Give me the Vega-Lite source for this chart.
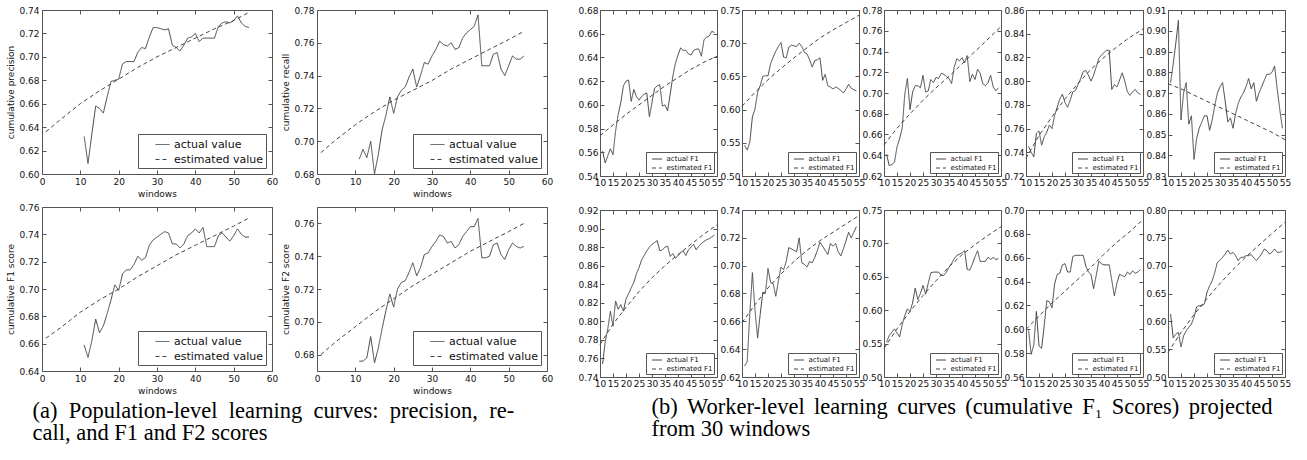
{
"$schema": "https://vega.github.io/schema/vega-lite/v6.json",
"background": "white",
"padding": {"left": 6, "top": 5, "right": 0, "bottom": 0},
"datasets": {
"a1": [
{"w":11,"v":0.632,"s":"actual"},{"w":12,"v":0.609,"s":"actual"},{"w":13,"v":0.634,"s":"actual"},{"w":14,"v":0.658,"s":"actual"},{"w":15,"v":0.656,"s":"actual"},{"w":16,"v":0.652,"s":"actual"},{"w":17,"v":0.666,"s":"actual"},{"w":18,"v":0.679,"s":"actual"},{"w":19,"v":0.680,"s":"actual"},{"w":20,"v":0.681,"s":"actual"},{"w":21,"v":0.694,"s":"actual"},{"w":22,"v":0.696,"s":"actual"},{"w":23,"v":0.696,"s":"actual"},{"w":24,"v":0.696,"s":"actual"},{"w":25,"v":0.704,"s":"actual"},{"w":26,"v":0.708,"s":"actual"},{"w":27,"v":0.707,"s":"actual"},{"w":28,"v":0.717,"s":"actual"},{"w":29,"v":0.725,"s":"actual"},{"w":30,"v":0.725,"s":"actual"},{"w":31,"v":0.724,"s":"actual"},{"w":32,"v":0.723,"s":"actual"},{"w":33,"v":0.724,"s":"actual"},{"w":34,"v":0.710,"s":"actual"},{"w":35,"v":0.708,"s":"actual"},{"w":36,"v":0.705,"s":"actual"},{"w":37,"v":0.710,"s":"actual"},{"w":38,"v":0.716,"s":"actual"},{"w":39,"v":0.717,"s":"actual"},{"w":40,"v":0.720,"s":"actual"},{"w":41,"v":0.713,"s":"actual"},{"w":42,"v":0.716,"s":"actual"},{"w":43,"v":0.716,"s":"actual"},{"w":44,"v":0.716,"s":"actual"},{"w":45,"v":0.716,"s":"actual"},{"w":46,"v":0.726,"s":"actual"},{"w":47,"v":0.729,"s":"actual"},{"w":48,"v":0.730,"s":"actual"},{"w":49,"v":0.729,"s":"actual"},{"w":50,"v":0.731,"s":"actual"},{"w":51,"v":0.735,"s":"actual"},{"w":52,"v":0.729,"s":"actual"},{"w":53,"v":0.726,"s":"actual"},{"w":54,"v":0.725,"s":"actual"},
{"w":1,"v":0.636,"s":"estimated"},{"w":5,"v":0.647,"s":"estimated"},{"w":10,"v":0.660,"s":"estimated"},{"w":15,"v":0.671,"s":"estimated"},{"w":20,"v":0.681,"s":"estimated"},{"w":25,"v":0.691,"s":"estimated"},{"w":30,"v":0.700,"s":"estimated"},{"w":35,"v":0.708,"s":"estimated"},{"w":40,"v":0.716,"s":"estimated"},{"w":45,"v":0.724,"s":"estimated"},{"w":50,"v":0.731,"s":"estimated"},{"w":54,"v":0.738,"s":"estimated"}],
"a2": [
{"w":11,"v":0.689,"s":"actual"},{"w":12,"v":0.695,"s":"actual"},{"w":13,"v":0.690,"s":"actual"},{"w":14,"v":0.700,"s":"actual"},{"w":15,"v":0.680,"s":"actual"},{"w":16,"v":0.692,"s":"actual"},{"w":17,"v":0.707,"s":"actual"},{"w":18,"v":0.716,"s":"actual"},{"w":19,"v":0.727,"s":"actual"},{"w":20,"v":0.717,"s":"actual"},{"w":21,"v":0.727,"s":"actual"},{"w":22,"v":0.731,"s":"actual"},{"w":23,"v":0.733,"s":"actual"},{"w":24,"v":0.739,"s":"actual"},{"w":25,"v":0.744,"s":"actual"},{"w":26,"v":0.733,"s":"actual"},{"w":27,"v":0.740,"s":"actual"},{"w":28,"v":0.748,"s":"actual"},{"w":29,"v":0.747,"s":"actual"},{"w":30,"v":0.752,"s":"actual"},{"w":31,"v":0.756,"s":"actual"},{"w":32,"v":0.761,"s":"actual"},{"w":33,"v":0.759,"s":"actual"},{"w":34,"v":0.758,"s":"actual"},{"w":35,"v":0.760,"s":"actual"},{"w":36,"v":0.756,"s":"actual"},{"w":37,"v":0.757,"s":"actual"},{"w":38,"v":0.763,"s":"actual"},{"w":39,"v":0.766,"s":"actual"},{"w":40,"v":0.768,"s":"actual"},{"w":41,"v":0.770,"s":"actual"},{"w":42,"v":0.777,"s":"actual"},{"w":43,"v":0.746,"s":"actual"},{"w":44,"v":0.746,"s":"actual"},{"w":45,"v":0.746,"s":"actual"},{"w":46,"v":0.753,"s":"actual"},{"w":47,"v":0.754,"s":"actual"},{"w":48,"v":0.744,"s":"actual"},{"w":49,"v":0.740,"s":"actual"},{"w":50,"v":0.746,"s":"actual"},{"w":51,"v":0.752,"s":"actual"},{"w":52,"v":0.750,"s":"actual"},{"w":53,"v":0.750,"s":"actual"},{"w":54,"v":0.752,"s":"actual"},
{"w":1,"v":0.693,"s":"estimated"},{"w":5,"v":0.701,"s":"estimated"},{"w":10,"v":0.710,"s":"estimated"},{"w":15,"v":0.718,"s":"estimated"},{"w":20,"v":0.725,"s":"estimated"},{"w":25,"v":0.731,"s":"estimated"},{"w":30,"v":0.737,"s":"estimated"},{"w":35,"v":0.744,"s":"estimated"},{"w":40,"v":0.750,"s":"estimated"},{"w":45,"v":0.756,"s":"estimated"},{"w":50,"v":0.762,"s":"estimated"},{"w":54,"v":0.767,"s":"estimated"}],
"a3": [
{"w":11,"v":0.659,"s":"actual"},{"w":12,"v":0.650,"s":"actual"},{"w":13,"v":0.662,"s":"actual"},{"w":14,"v":0.678,"s":"actual"},{"w":15,"v":0.668,"s":"actual"},{"w":16,"v":0.673,"s":"actual"},{"w":17,"v":0.682,"s":"actual"},{"w":18,"v":0.692,"s":"actual"},{"w":19,"v":0.703,"s":"actual"},{"w":20,"v":0.699,"s":"actual"},{"w":21,"v":0.711,"s":"actual"},{"w":22,"v":0.714,"s":"actual"},{"w":23,"v":0.714,"s":"actual"},{"w":24,"v":0.718,"s":"actual"},{"w":25,"v":0.724,"s":"actual"},{"w":26,"v":0.721,"s":"actual"},{"w":27,"v":0.723,"s":"actual"},{"w":28,"v":0.732,"s":"actual"},{"w":29,"v":0.736,"s":"actual"},{"w":30,"v":0.738,"s":"actual"},{"w":31,"v":0.740,"s":"actual"},{"w":32,"v":0.742,"s":"actual"},{"w":33,"v":0.741,"s":"actual"},{"w":34,"v":0.733,"s":"actual"},{"w":35,"v":0.733,"s":"actual"},{"w":36,"v":0.730,"s":"actual"},{"w":37,"v":0.733,"s":"actual"},{"w":38,"v":0.739,"s":"actual"},{"w":39,"v":0.741,"s":"actual"},{"w":40,"v":0.744,"s":"actual"},{"w":41,"v":0.741,"s":"actual"},{"w":42,"v":0.745,"s":"actual"},{"w":43,"v":0.731,"s":"actual"},{"w":44,"v":0.731,"s":"actual"},{"w":45,"v":0.731,"s":"actual"},{"w":46,"v":0.739,"s":"actual"},{"w":47,"v":0.741,"s":"actual"},{"w":48,"v":0.738,"s":"actual"},{"w":49,"v":0.735,"s":"actual"},{"w":50,"v":0.739,"s":"actual"},{"w":51,"v":0.744,"s":"actual"},{"w":52,"v":0.740,"s":"actual"},{"w":53,"v":0.738,"s":"actual"},{"w":54,"v":0.738,"s":"actual"},
{"w":1,"v":0.664,"s":"estimated"},{"w":5,"v":0.672,"s":"estimated"},{"w":10,"v":0.683,"s":"estimated"},{"w":15,"v":0.692,"s":"estimated"},{"w":20,"v":0.700,"s":"estimated"},{"w":25,"v":0.709,"s":"estimated"},{"w":30,"v":0.717,"s":"estimated"},{"w":35,"v":0.725,"s":"estimated"},{"w":40,"v":0.732,"s":"estimated"},{"w":45,"v":0.739,"s":"estimated"},{"w":50,"v":0.746,"s":"estimated"},{"w":54,"v":0.752,"s":"estimated"}],
"a4": [
{"w":11,"v":0.676,"s":"actual"},{"w":12,"v":0.676,"s":"actual"},{"w":13,"v":0.678,"s":"actual"},{"w":14,"v":0.691,"s":"actual"},{"w":15,"v":0.675,"s":"actual"},{"w":16,"v":0.684,"s":"actual"},{"w":17,"v":0.696,"s":"actual"},{"w":18,"v":0.707,"s":"actual"},{"w":19,"v":0.717,"s":"actual"},{"w":20,"v":0.709,"s":"actual"},{"w":21,"v":0.720,"s":"actual"},{"w":22,"v":0.724,"s":"actual"},{"w":23,"v":0.725,"s":"actual"},{"w":24,"v":0.730,"s":"actual"},{"w":25,"v":0.736,"s":"actual"},{"w":26,"v":0.728,"s":"actual"},{"w":27,"v":0.733,"s":"actual"},{"w":28,"v":0.741,"s":"actual"},{"w":29,"v":0.742,"s":"actual"},{"w":30,"v":0.746,"s":"actual"},{"w":31,"v":0.749,"s":"actual"},{"w":32,"v":0.753,"s":"actual"},{"w":33,"v":0.752,"s":"actual"},{"w":34,"v":0.748,"s":"actual"},{"w":35,"v":0.749,"s":"actual"},{"w":36,"v":0.745,"s":"actual"},{"w":37,"v":0.747,"s":"actual"},{"w":38,"v":0.752,"s":"actual"},{"w":39,"v":0.755,"s":"actual"},{"w":40,"v":0.758,"s":"actual"},{"w":41,"v":0.758,"s":"actual"},{"w":42,"v":0.763,"s":"actual"},{"w":43,"v":0.739,"s":"actual"},{"w":44,"v":0.739,"s":"actual"},{"w":45,"v":0.740,"s":"actual"},{"w":46,"v":0.747,"s":"actual"},{"w":47,"v":0.748,"s":"actual"},{"w":48,"v":0.741,"s":"actual"},{"w":49,"v":0.738,"s":"actual"},{"w":50,"v":0.744,"s":"actual"},{"w":51,"v":0.748,"s":"actual"},{"w":52,"v":0.746,"s":"actual"},{"w":53,"v":0.745,"s":"actual"},{"w":54,"v":0.746,"s":"actual"},
{"w":1,"v":0.680,"s":"estimated"},{"w":5,"v":0.688,"s":"estimated"},{"w":10,"v":0.697,"s":"estimated"},{"w":15,"v":0.706,"s":"estimated"},{"w":20,"v":0.714,"s":"estimated"},{"w":25,"v":0.722,"s":"estimated"},{"w":30,"v":0.729,"s":"estimated"},{"w":35,"v":0.736,"s":"estimated"},{"w":40,"v":0.743,"s":"estimated"},{"w":45,"v":0.749,"s":"estimated"},{"w":50,"v":0.755,"s":"estimated"},{"w":54,"v":0.760,"s":"estimated"}],
"b1": [
{"w":11,"v":0.561,"s":"actual"},{"w":12,"v":0.551,"s":"actual"},{"w":13,"v":0.557,"s":"actual"},{"w":14,"v":0.563,"s":"actual"},{"w":15,"v":0.558,"s":"actual"},{"w":16,"v":0.578,"s":"actual"},{"w":17,"v":0.592,"s":"actual"},{"w":18,"v":0.602,"s":"actual"},{"w":19,"v":0.616,"s":"actual"},{"w":20,"v":0.620,"s":"actual"},{"w":21,"v":0.621,"s":"actual"},{"w":22,"v":0.603,"s":"actual"},{"w":23,"v":0.613,"s":"actual"},{"w":24,"v":0.607,"s":"actual"},{"w":25,"v":0.604,"s":"actual"},{"w":26,"v":0.607,"s":"actual"},{"w":27,"v":0.609,"s":"actual"},{"w":28,"v":0.610,"s":"actual"},{"w":29,"v":0.590,"s":"actual"},{"w":30,"v":0.602,"s":"actual"},{"w":31,"v":0.614,"s":"actual"},{"w":32,"v":0.616,"s":"actual"},{"w":33,"v":0.617,"s":"actual"},{"w":34,"v":0.599,"s":"actual"},{"w":35,"v":0.600,"s":"actual"},{"w":36,"v":0.595,"s":"actual"},{"w":37,"v":0.609,"s":"actual"},{"w":38,"v":0.624,"s":"actual"},{"w":39,"v":0.635,"s":"actual"},{"w":40,"v":0.642,"s":"actual"},{"w":41,"v":0.648,"s":"actual"},{"w":42,"v":0.646,"s":"actual"},{"w":43,"v":0.646,"s":"actual"},{"w":44,"v":0.643,"s":"actual"},{"w":45,"v":0.642,"s":"actual"},{"w":46,"v":0.646,"s":"actual"},{"w":47,"v":0.647,"s":"actual"},{"w":48,"v":0.647,"s":"actual"},{"w":49,"v":0.641,"s":"actual"},{"w":50,"v":0.655,"s":"actual"},{"w":51,"v":0.657,"s":"actual"},{"w":52,"v":0.658,"s":"actual"},{"w":53,"v":0.662,"s":"actual"},{"w":54,"v":0.661,"s":"actual"},
{"w":10,"v":0.574,"s":"estimated"},{"w":15,"v":0.583,"s":"estimated"},{"w":20,"v":0.592,"s":"estimated"},{"w":25,"v":0.600,"s":"estimated"},{"w":30,"v":0.608,"s":"estimated"},{"w":35,"v":0.616,"s":"estimated"},{"w":40,"v":0.623,"s":"estimated"},{"w":45,"v":0.630,"s":"estimated"},{"w":50,"v":0.636,"s":"estimated"},{"w":55,"v":0.641,"s":"estimated"}],
"b2": [
{"w":11,"v":0.546,"s":"actual"},{"w":12,"v":0.539,"s":"actual"},{"w":13,"v":0.551,"s":"actual"},{"w":14,"v":0.589,"s":"actual"},{"w":15,"v":0.601,"s":"actual"},{"w":16,"v":0.626,"s":"actual"},{"w":17,"v":0.636,"s":"actual"},{"w":18,"v":0.650,"s":"actual"},{"w":19,"v":0.651,"s":"actual"},{"w":20,"v":0.651,"s":"actual"},{"w":21,"v":0.669,"s":"actual"},{"w":22,"v":0.679,"s":"actual"},{"w":23,"v":0.688,"s":"actual"},{"w":24,"v":0.695,"s":"actual"},{"w":25,"v":0.701,"s":"actual"},{"w":26,"v":0.679,"s":"actual"},{"w":27,"v":0.678,"s":"actual"},{"w":28,"v":0.694,"s":"actual"},{"w":29,"v":0.697,"s":"actual"},{"w":30,"v":0.696,"s":"actual"},{"w":31,"v":0.695,"s":"actual"},{"w":32,"v":0.700,"s":"actual"},{"w":33,"v":0.695,"s":"actual"},{"w":34,"v":0.686,"s":"actual"},{"w":35,"v":0.684,"s":"actual"},{"w":36,"v":0.675,"s":"actual"},{"w":37,"v":0.664,"s":"actual"},{"w":38,"v":0.674,"s":"actual"},{"w":39,"v":0.675,"s":"actual"},{"w":40,"v":0.678,"s":"actual"},{"w":41,"v":0.644,"s":"actual"},{"w":42,"v":0.653,"s":"actual"},{"w":43,"v":0.636,"s":"actual"},{"w":44,"v":0.634,"s":"actual"},{"w":45,"v":0.631,"s":"actual"},{"w":46,"v":0.634,"s":"actual"},{"w":47,"v":0.632,"s":"actual"},{"w":48,"v":0.629,"s":"actual"},{"w":49,"v":0.625,"s":"actual"},{"w":50,"v":0.631,"s":"actual"},{"w":51,"v":0.638,"s":"actual"},{"w":52,"v":0.632,"s":"actual"},{"w":53,"v":0.630,"s":"actual"},{"w":54,"v":0.628,"s":"actual"},
{"w":10,"v":0.605,"s":"estimated"},{"w":15,"v":0.626,"s":"estimated"},{"w":20,"v":0.645,"s":"estimated"},{"w":25,"v":0.662,"s":"estimated"},{"w":30,"v":0.678,"s":"estimated"},{"w":35,"v":0.693,"s":"estimated"},{"w":40,"v":0.708,"s":"estimated"},{"w":45,"v":0.720,"s":"estimated"},{"w":50,"v":0.731,"s":"estimated"},{"w":55,"v":0.742,"s":"estimated"}],
"b3": [
{"w":11,"v":0.641,"s":"actual"},{"w":12,"v":0.630,"s":"actual"},{"w":13,"v":0.631,"s":"actual"},{"w":14,"v":0.633,"s":"actual"},{"w":15,"v":0.648,"s":"actual"},{"w":16,"v":0.656,"s":"actual"},{"w":17,"v":0.666,"s":"actual"},{"w":18,"v":0.699,"s":"actual"},{"w":19,"v":0.714,"s":"actual"},{"w":20,"v":0.684,"s":"actual"},{"w":21,"v":0.701,"s":"actual"},{"w":22,"v":0.707,"s":"actual"},{"w":23,"v":0.707,"s":"actual"},{"w":24,"v":0.705,"s":"actual"},{"w":25,"v":0.717,"s":"actual"},{"w":26,"v":0.701,"s":"actual"},{"w":27,"v":0.702,"s":"actual"},{"w":28,"v":0.713,"s":"actual"},{"w":29,"v":0.710,"s":"actual"},{"w":30,"v":0.715,"s":"actual"},{"w":31,"v":0.714,"s":"actual"},{"w":32,"v":0.719,"s":"actual"},{"w":33,"v":0.718,"s":"actual"},{"w":34,"v":0.716,"s":"actual"},{"w":35,"v":0.714,"s":"actual"},{"w":36,"v":0.709,"s":"actual"},{"w":37,"v":0.725,"s":"actual"},{"w":38,"v":0.733,"s":"actual"},{"w":39,"v":0.731,"s":"actual"},{"w":40,"v":0.734,"s":"actual"},{"w":41,"v":0.729,"s":"actual"},{"w":42,"v":0.736,"s":"actual"},{"w":43,"v":0.711,"s":"actual"},{"w":44,"v":0.718,"s":"actual"},{"w":45,"v":0.713,"s":"actual"},{"w":46,"v":0.723,"s":"actual"},{"w":47,"v":0.719,"s":"actual"},{"w":48,"v":0.709,"s":"actual"},{"w":49,"v":0.707,"s":"actual"},{"w":50,"v":0.710,"s":"actual"},{"w":51,"v":0.717,"s":"actual"},{"w":52,"v":0.706,"s":"actual"},{"w":53,"v":0.702,"s":"actual"},{"w":54,"v":0.705,"s":"actual"},
{"w":10,"v":0.650,"s":"estimated"},{"w":15,"v":0.666,"s":"estimated"},{"w":20,"v":0.680,"s":"estimated"},{"w":25,"v":0.693,"s":"estimated"},{"w":30,"v":0.705,"s":"estimated"},{"w":35,"v":0.716,"s":"estimated"},{"w":40,"v":0.728,"s":"estimated"},{"w":45,"v":0.740,"s":"estimated"},{"w":50,"v":0.752,"s":"estimated"},{"w":55,"v":0.764,"s":"estimated"}],
"b4": [
{"w":11,"v":0.745,"s":"actual"},{"w":12,"v":0.740,"s":"actual"},{"w":13,"v":0.736,"s":"actual"},{"w":14,"v":0.756,"s":"actual"},{"w":15,"v":0.758,"s":"actual"},{"w":16,"v":0.746,"s":"actual"},{"w":17,"v":0.753,"s":"actual"},{"w":18,"v":0.757,"s":"actual"},{"w":19,"v":0.763,"s":"actual"},{"w":20,"v":0.760,"s":"actual"},{"w":21,"v":0.771,"s":"actual"},{"w":22,"v":0.778,"s":"actual"},{"w":23,"v":0.785,"s":"actual"},{"w":24,"v":0.789,"s":"actual"},{"w":25,"v":0.782,"s":"actual"},{"w":26,"v":0.778,"s":"actual"},{"w":27,"v":0.784,"s":"actual"},{"w":28,"v":0.791,"s":"actual"},{"w":29,"v":0.792,"s":"actual"},{"w":30,"v":0.797,"s":"actual"},{"w":31,"v":0.802,"s":"actual"},{"w":32,"v":0.808,"s":"actual"},{"w":33,"v":0.809,"s":"actual"},{"w":34,"v":0.805,"s":"actual"},{"w":35,"v":0.800,"s":"actual"},{"w":36,"v":0.805,"s":"actual"},{"w":37,"v":0.812,"s":"actual"},{"w":38,"v":0.819,"s":"actual"},{"w":39,"v":0.822,"s":"actual"},{"w":40,"v":0.824,"s":"actual"},{"w":41,"v":0.826,"s":"actual"},{"w":42,"v":0.826,"s":"actual"},{"w":43,"v":0.793,"s":"actual"},{"w":44,"v":0.797,"s":"actual"},{"w":45,"v":0.795,"s":"actual"},{"w":46,"v":0.801,"s":"actual"},{"w":47,"v":0.807,"s":"actual"},{"w":48,"v":0.800,"s":"actual"},{"w":49,"v":0.791,"s":"actual"},{"w":50,"v":0.788,"s":"actual"},{"w":51,"v":0.791,"s":"actual"},{"w":52,"v":0.793,"s":"actual"},{"w":53,"v":0.790,"s":"actual"},{"w":54,"v":0.789,"s":"actual"},
{"w":10,"v":0.735,"s":"estimated"},{"w":15,"v":0.754,"s":"estimated"},{"w":20,"v":0.770,"s":"estimated"},{"w":25,"v":0.785,"s":"estimated"},{"w":30,"v":0.798,"s":"estimated"},{"w":35,"v":0.810,"s":"estimated"},{"w":40,"v":0.820,"s":"estimated"},{"w":45,"v":0.829,"s":"estimated"},{"w":50,"v":0.837,"s":"estimated"},{"w":55,"v":0.844,"s":"estimated"}],
"b5": [
{"w":11,"v":0.875,"s":"actual"},{"w":12,"v":0.884,"s":"actual"},{"w":13,"v":0.894,"s":"actual"},{"w":14,"v":0.905,"s":"actual"},{"w":15,"v":0.857,"s":"actual"},{"w":16,"v":0.870,"s":"actual"},{"w":17,"v":0.875,"s":"actual"},{"w":18,"v":0.855,"s":"actual"},{"w":19,"v":0.859,"s":"actual"},{"w":20,"v":0.838,"s":"actual"},{"w":21,"v":0.848,"s":"actual"},{"w":22,"v":0.853,"s":"actual"},{"w":23,"v":0.856,"s":"actual"},{"w":24,"v":0.859,"s":"actual"},{"w":25,"v":0.859,"s":"actual"},{"w":26,"v":0.852,"s":"actual"},{"w":27,"v":0.857,"s":"actual"},{"w":28,"v":0.864,"s":"actual"},{"w":29,"v":0.870,"s":"actual"},{"w":30,"v":0.873,"s":"actual"},{"w":31,"v":0.875,"s":"actual"},{"w":32,"v":0.866,"s":"actual"},{"w":33,"v":0.856,"s":"actual"},{"w":34,"v":0.858,"s":"actual"},{"w":35,"v":0.853,"s":"actual"},{"w":36,"v":0.860,"s":"actual"},{"w":37,"v":0.865,"s":"actual"},{"w":38,"v":0.868,"s":"actual"},{"w":39,"v":0.870,"s":"actual"},{"w":40,"v":0.873,"s":"actual"},{"w":41,"v":0.877,"s":"actual"},{"w":42,"v":0.872,"s":"actual"},{"w":43,"v":0.875,"s":"actual"},{"w":44,"v":0.866,"s":"actual"},{"w":45,"v":0.870,"s":"actual"},{"w":46,"v":0.873,"s":"actual"},{"w":47,"v":0.876,"s":"actual"},{"w":48,"v":0.879,"s":"actual"},{"w":49,"v":0.879,"s":"actual"},{"w":50,"v":0.880,"s":"actual"},{"w":51,"v":0.883,"s":"actual"},{"w":52,"v":0.872,"s":"actual"},{"w":53,"v":0.862,"s":"actual"},{"w":54,"v":0.853,"s":"actual"},
{"w":10,"v":0.8745,"s":"estimated"},{"w":15,"v":0.872,"s":"estimated"},{"w":20,"v":0.869,"s":"estimated"},{"w":25,"v":0.866,"s":"estimated"},{"w":30,"v":0.863,"s":"estimated"},{"w":35,"v":0.860,"s":"estimated"},{"w":40,"v":0.857,"s":"estimated"},{"w":45,"v":0.854,"s":"estimated"},{"w":50,"v":0.851,"s":"estimated"},{"w":55,"v":0.8475,"s":"estimated"}],
"b6": [
{"w":11,"v":0.754,"s":"actual"},{"w":12,"v":0.778,"s":"actual"},{"w":13,"v":0.792,"s":"actual"},{"w":14,"v":0.811,"s":"actual"},{"w":15,"v":0.795,"s":"actual"},{"w":16,"v":0.822,"s":"actual"},{"w":17,"v":0.813,"s":"actual"},{"w":18,"v":0.818,"s":"actual"},{"w":19,"v":0.811,"s":"actual"},{"w":20,"v":0.824,"s":"actual"},{"w":21,"v":0.830,"s":"actual"},{"w":22,"v":0.836,"s":"actual"},{"w":23,"v":0.842,"s":"actual"},{"w":24,"v":0.851,"s":"actual"},{"w":25,"v":0.858,"s":"actual"},{"w":26,"v":0.866,"s":"actual"},{"w":27,"v":0.871,"s":"actual"},{"w":28,"v":0.876,"s":"actual"},{"w":29,"v":0.880,"s":"actual"},{"w":30,"v":0.883,"s":"actual"},{"w":31,"v":0.885,"s":"actual"},{"w":32,"v":0.887,"s":"actual"},{"w":33,"v":0.876,"s":"actual"},{"w":34,"v":0.877,"s":"actual"},{"w":35,"v":0.880,"s":"actual"},{"w":36,"v":0.881,"s":"actual"},{"w":37,"v":0.870,"s":"actual"},{"w":38,"v":0.873,"s":"actual"},{"w":39,"v":0.868,"s":"actual"},{"w":40,"v":0.871,"s":"actual"},{"w":41,"v":0.874,"s":"actual"},{"w":42,"v":0.876,"s":"actual"},{"w":43,"v":0.871,"s":"actual"},{"w":44,"v":0.877,"s":"actual"},{"w":45,"v":0.880,"s":"actual"},{"w":46,"v":0.883,"s":"actual"},{"w":47,"v":0.877,"s":"actual"},{"w":48,"v":0.881,"s":"actual"},{"w":49,"v":0.884,"s":"actual"},{"w":50,"v":0.886,"s":"actual"},{"w":51,"v":0.888,"s":"actual"},{"w":52,"v":0.889,"s":"actual"},{"w":53,"v":0.891,"s":"actual"},{"w":54,"v":0.893,"s":"actual"},
{"w":10,"v":0.775,"s":"estimated"},{"w":15,"v":0.797,"s":"estimated"},{"w":20,"v":0.815,"s":"estimated"},{"w":25,"v":0.832,"s":"estimated"},{"w":30,"v":0.847,"s":"estimated"},{"w":35,"v":0.860,"s":"estimated"},{"w":40,"v":0.872,"s":"estimated"},{"w":45,"v":0.883,"s":"estimated"},{"w":50,"v":0.894,"s":"estimated"},{"w":55,"v":0.904,"s":"estimated"}],
"b7": [
{"w":11,"v":0.628,"s":"actual"},{"w":12,"v":0.631,"s":"actual"},{"w":13,"v":0.665,"s":"actual"},{"w":14,"v":0.695,"s":"actual"},{"w":15,"v":0.668,"s":"actual"},{"w":16,"v":0.648,"s":"actual"},{"w":17,"v":0.665,"s":"actual"},{"w":18,"v":0.681,"s":"actual"},{"w":19,"v":0.680,"s":"actual"},{"w":20,"v":0.698,"s":"actual"},{"w":21,"v":0.688,"s":"actual"},{"w":22,"v":0.687,"s":"actual"},{"w":23,"v":0.678,"s":"actual"},{"w":24,"v":0.689,"s":"actual"},{"w":25,"v":0.699,"s":"actual"},{"w":26,"v":0.697,"s":"actual"},{"w":27,"v":0.703,"s":"actual"},{"w":28,"v":0.713,"s":"actual"},{"w":29,"v":0.712,"s":"actual"},{"w":30,"v":0.711,"s":"actual"},{"w":31,"v":0.710,"s":"actual"},{"w":32,"v":0.720,"s":"actual"},{"w":33,"v":0.702,"s":"actual"},{"w":34,"v":0.701,"s":"actual"},{"w":35,"v":0.699,"s":"actual"},{"w":36,"v":0.703,"s":"actual"},{"w":37,"v":0.702,"s":"actual"},{"w":38,"v":0.706,"s":"actual"},{"w":39,"v":0.711,"s":"actual"},{"w":40,"v":0.717,"s":"actual"},{"w":41,"v":0.714,"s":"actual"},{"w":42,"v":0.711,"s":"actual"},{"w":43,"v":0.708,"s":"actual"},{"w":44,"v":0.716,"s":"actual"},{"w":45,"v":0.714,"s":"actual"},{"w":46,"v":0.716,"s":"actual"},{"w":47,"v":0.710,"s":"actual"},{"w":48,"v":0.707,"s":"actual"},{"w":49,"v":0.712,"s":"actual"},{"w":50,"v":0.718,"s":"actual"},{"w":51,"v":0.724,"s":"actual"},{"w":52,"v":0.720,"s":"actual"},{"w":53,"v":0.724,"s":"actual"},{"w":54,"v":0.728,"s":"actual"},
{"w":10,"v":0.659,"s":"estimated"},{"w":15,"v":0.672,"s":"estimated"},{"w":20,"v":0.684,"s":"estimated"},{"w":25,"v":0.694,"s":"estimated"},{"w":30,"v":0.703,"s":"estimated"},{"w":35,"v":0.711,"s":"estimated"},{"w":40,"v":0.718,"s":"estimated"},{"w":45,"v":0.724,"s":"estimated"},{"w":50,"v":0.730,"s":"estimated"},{"w":55,"v":0.736,"s":"estimated"}],
"b8": [
{"w":11,"v":0.552,"s":"actual"},{"w":12,"v":0.562,"s":"actual"},{"w":13,"v":0.567,"s":"actual"},{"w":14,"v":0.572,"s":"actual"},{"w":15,"v":0.566,"s":"actual"},{"w":16,"v":0.560,"s":"actual"},{"w":17,"v":0.578,"s":"actual"},{"w":18,"v":0.592,"s":"actual"},{"w":19,"v":0.602,"s":"actual"},{"w":20,"v":0.598,"s":"actual"},{"w":21,"v":0.611,"s":"actual"},{"w":22,"v":0.633,"s":"actual"},{"w":23,"v":0.616,"s":"actual"},{"w":24,"v":0.625,"s":"actual"},{"w":25,"v":0.637,"s":"actual"},{"w":26,"v":0.624,"s":"actual"},{"w":27,"v":0.640,"s":"actual"},{"w":28,"v":0.656,"s":"actual"},{"w":29,"v":0.657,"s":"actual"},{"w":30,"v":0.657,"s":"actual"},{"w":31,"v":0.657,"s":"actual"},{"w":32,"v":0.652,"s":"actual"},{"w":33,"v":0.652,"s":"actual"},{"w":34,"v":0.657,"s":"actual"},{"w":35,"v":0.664,"s":"actual"},{"w":36,"v":0.670,"s":"actual"},{"w":37,"v":0.677,"s":"actual"},{"w":38,"v":0.682,"s":"actual"},{"w":39,"v":0.684,"s":"actual"},{"w":40,"v":0.686,"s":"actual"},{"w":41,"v":0.689,"s":"actual"},{"w":42,"v":0.661,"s":"actual"},{"w":43,"v":0.660,"s":"actual"},{"w":44,"v":0.669,"s":"actual"},{"w":45,"v":0.680,"s":"actual"},{"w":46,"v":0.689,"s":"actual"},{"w":47,"v":0.673,"s":"actual"},{"w":48,"v":0.673,"s":"actual"},{"w":49,"v":0.673,"s":"actual"},{"w":50,"v":0.679,"s":"actual"},{"w":51,"v":0.676,"s":"actual"},{"w":52,"v":0.679,"s":"actual"},{"w":53,"v":0.676,"s":"actual"},{"w":54,"v":0.677,"s":"actual"},
{"w":10,"v":0.543,"s":"estimated"},{"w":15,"v":0.572,"s":"estimated"},{"w":20,"v":0.598,"s":"estimated"},{"w":25,"v":0.622,"s":"estimated"},{"w":30,"v":0.644,"s":"estimated"},{"w":35,"v":0.665,"s":"estimated"},{"w":40,"v":0.683,"s":"estimated"},{"w":45,"v":0.698,"s":"estimated"},{"w":50,"v":0.712,"s":"estimated"},{"w":55,"v":0.725,"s":"estimated"}],
"b9": [
{"w":11,"v":0.599,"s":"actual"},{"w":12,"v":0.579,"s":"actual"},{"w":13,"v":0.587,"s":"actual"},{"w":14,"v":0.615,"s":"actual"},{"w":15,"v":0.586,"s":"actual"},{"w":16,"v":0.584,"s":"actual"},{"w":17,"v":0.603,"s":"actual"},{"w":18,"v":0.624,"s":"actual"},{"w":19,"v":0.623,"s":"actual"},{"w":20,"v":0.618,"s":"actual"},{"w":21,"v":0.638,"s":"actual"},{"w":22,"v":0.646,"s":"actual"},{"w":23,"v":0.647,"s":"actual"},{"w":24,"v":0.654,"s":"actual"},{"w":25,"v":0.655,"s":"actual"},{"w":26,"v":0.648,"s":"actual"},{"w":27,"v":0.648,"s":"actual"},{"w":28,"v":0.661,"s":"actual"},{"w":29,"v":0.662,"s":"actual"},{"w":30,"v":0.662,"s":"actual"},{"w":31,"v":0.662,"s":"actual"},{"w":32,"v":0.662,"s":"actual"},{"w":33,"v":0.653,"s":"actual"},{"w":34,"v":0.648,"s":"actual"},{"w":35,"v":0.646,"s":"actual"},{"w":36,"v":0.634,"s":"actual"},{"w":37,"v":0.645,"s":"actual"},{"w":38,"v":0.657,"s":"actual"},{"w":39,"v":0.655,"s":"actual"},{"w":40,"v":0.654,"s":"actual"},{"w":41,"v":0.654,"s":"actual"},{"w":42,"v":0.654,"s":"actual"},{"w":43,"v":0.641,"s":"actual"},{"w":44,"v":0.628,"s":"actual"},{"w":45,"v":0.639,"s":"actual"},{"w":46,"v":0.646,"s":"actual"},{"w":47,"v":0.645,"s":"actual"},{"w":48,"v":0.644,"s":"actual"},{"w":49,"v":0.648,"s":"actual"},{"w":50,"v":0.646,"s":"actual"},{"w":51,"v":0.649,"s":"actual"},{"w":52,"v":0.647,"s":"actual"},{"w":53,"v":0.648,"s":"actual"},{"w":54,"v":0.650,"s":"actual"},
{"w":10,"v":0.600,"s":"estimated"},{"w":15,"v":0.611,"s":"estimated"},{"w":20,"v":0.622,"s":"estimated"},{"w":25,"v":0.632,"s":"estimated"},{"w":30,"v":0.642,"s":"estimated"},{"w":35,"v":0.652,"s":"estimated"},{"w":40,"v":0.663,"s":"estimated"},{"w":45,"v":0.673,"s":"estimated"},{"w":50,"v":0.682,"s":"estimated"},{"w":55,"v":0.692,"s":"estimated"}],
"b10": [
{"w":11,"v":0.613,"s":"actual"},{"w":12,"v":0.570,"s":"actual"},{"w":13,"v":0.577,"s":"actual"},{"w":14,"v":0.580,"s":"actual"},{"w":15,"v":0.554,"s":"actual"},{"w":16,"v":0.574,"s":"actual"},{"w":17,"v":0.583,"s":"actual"},{"w":18,"v":0.589,"s":"actual"},{"w":19,"v":0.595,"s":"actual"},{"w":20,"v":0.607,"s":"actual"},{"w":21,"v":0.626,"s":"actual"},{"w":22,"v":0.628,"s":"actual"},{"w":23,"v":0.628,"s":"actual"},{"w":24,"v":0.631,"s":"actual"},{"w":25,"v":0.652,"s":"actual"},{"w":26,"v":0.664,"s":"actual"},{"w":27,"v":0.673,"s":"actual"},{"w":28,"v":0.688,"s":"actual"},{"w":29,"v":0.706,"s":"actual"},{"w":30,"v":0.710,"s":"actual"},{"w":31,"v":0.715,"s":"actual"},{"w":32,"v":0.721,"s":"actual"},{"w":33,"v":0.728,"s":"actual"},{"w":34,"v":0.721,"s":"actual"},{"w":35,"v":0.724,"s":"actual"},{"w":36,"v":0.718,"s":"actual"},{"w":37,"v":0.709,"s":"actual"},{"w":38,"v":0.715,"s":"actual"},{"w":39,"v":0.715,"s":"actual"},{"w":40,"v":0.718,"s":"actual"},{"w":41,"v":0.718,"s":"actual"},{"w":42,"v":0.720,"s":"actual"},{"w":43,"v":0.714,"s":"actual"},{"w":44,"v":0.709,"s":"actual"},{"w":45,"v":0.715,"s":"actual"},{"w":46,"v":0.721,"s":"actual"},{"w":47,"v":0.730,"s":"actual"},{"w":48,"v":0.727,"s":"actual"},{"w":49,"v":0.721,"s":"actual"},{"w":50,"v":0.724,"s":"actual"},{"w":51,"v":0.730,"s":"actual"},{"w":52,"v":0.724,"s":"actual"},{"w":53,"v":0.724,"s":"actual"},{"w":54,"v":0.726,"s":"actual"},
{"w":10,"v":0.544,"s":"estimated"},{"w":15,"v":0.580,"s":"estimated"},{"w":20,"v":0.612,"s":"estimated"},{"w":25,"v":0.641,"s":"estimated"},{"w":30,"v":0.668,"s":"estimated"},{"w":35,"v":0.693,"s":"estimated"},{"w":40,"v":0.716,"s":"estimated"},{"w":45,"v":0.737,"s":"estimated"},{"w":50,"v":0.758,"s":"estimated"},{"w":55,"v":0.778,"s":"estimated"}]
},
"hconcat": [
{
"vconcat": [
{"hconcat": [
{"width": 230, "height": 164, "data": {"name": "a1"},
 "layer": [
  {"mark": {"type": "line", "color": "#444", "strokeWidth": 1},
   "encoding": {
    "x": {"field": "w", "type": "quantitative", "scale": {"domain": [0, 60], "nice": false, "zero": false}, "axis": {"orient": "bottom", "values": [0,10,20,30,40,50,60], "title": "windows", "labelPadding": 7}},
    "y": {"field": "v", "type": "quantitative", "scale": {"domain": [0.6, 0.74], "nice": false, "zero": false}, "axis": {"orient": "left", "values": [0.6,0.62,0.64,0.66,0.68,0.7,0.72,0.74], "format": ".2f", "title": "cumulative precision", "labelPadding": 7}},
    "strokeDash": {"field": "s", "type": "nominal", "scale": {"domain": ["actual", "estimated"], "range": [[1,0],[4,3]]}, "legend": {"title": null, "labelExpr": "datum.label + ' value'", "labelFontSize": 11, "symbolSize": 196, "padding": 3, "symbolOffset": 14, "rowPadding": 2, "offset": 6, "labelOffset": 4}}
   }},
  {"mark": {"type": "point", "opacity": 0},
   "encoding": {
    "x": {"field": "w", "type": "quantitative", "scale": {"domain": [0, 60], "nice": false, "zero": false}, "axis": {"orient": "top", "values": [0,10,20,30,40,50,60], "labels": false, "title": null}},
    "y": {"field": "v", "type": "quantitative", "scale": {"domain": [0.6, 0.74], "nice": false, "zero": false}, "axis": {"orient": "right", "values": [0.6,0.62,0.64,0.66,0.68,0.7,0.72,0.74], "labels": false, "title": null}}
   }}
 ],
 "resolve": {"axis": {"x": "independent", "y": "independent"}}},
{"width": 230, "height": 164, "data": {"name": "a2"},
 "layer": [
  {"mark": {"type": "line", "color": "#444", "strokeWidth": 1},
   "encoding": {
    "x": {"field": "w", "type": "quantitative", "scale": {"domain": [0, 60], "nice": false, "zero": false}, "axis": {"orient": "bottom", "values": [0,10,20,30,40,50,60], "title": "windows", "labelPadding": 7}},
    "y": {"field": "v", "type": "quantitative", "scale": {"domain": [0.68, 0.78], "nice": false, "zero": false}, "axis": {"orient": "left", "values": [0.68,0.7,0.72,0.74,0.76,0.78], "format": ".2f", "title": "cumulative recall", "labelPadding": 7}},
    "strokeDash": {"field": "s", "type": "nominal", "scale": {"domain": ["actual", "estimated"], "range": [[1,0],[4,3]]}, "legend": {"title": null, "labelExpr": "datum.label + ' value'", "labelFontSize": 11, "symbolSize": 196, "padding": 3, "symbolOffset": 14, "rowPadding": 2, "offset": 6, "labelOffset": 4}}
   }},
  {"mark": {"type": "point", "opacity": 0},
   "encoding": {
    "x": {"field": "w", "type": "quantitative", "scale": {"domain": [0, 60], "nice": false, "zero": false}, "axis": {"orient": "top", "values": [0,10,20,30,40,50,60], "labels": false, "title": null}},
    "y": {"field": "v", "type": "quantitative", "scale": {"domain": [0.68, 0.78], "nice": false, "zero": false}, "axis": {"orient": "right", "values": [0.68,0.7,0.72,0.74,0.76,0.78], "labels": false, "title": null}}
   }}
 ],
 "resolve": {"axis": {"x": "independent", "y": "independent"}}}
], "spacing": 45, "bounds": "flush", "resolve": {"scale": {"strokeDash": "independent"}, "legend": {"strokeDash": "independent"}}},
{"hconcat": [
{"width": 230, "height": 164, "data": {"name": "a3"},
 "layer": [
  {"mark": {"type": "line", "color": "#444", "strokeWidth": 1},
   "encoding": {
    "x": {"field": "w", "type": "quantitative", "scale": {"domain": [0, 60], "nice": false, "zero": false}, "axis": {"orient": "bottom", "values": [0,10,20,30,40,50,60], "title": "windows", "labelPadding": 7}},
    "y": {"field": "v", "type": "quantitative", "scale": {"domain": [0.64, 0.76], "nice": false, "zero": false}, "axis": {"orient": "left", "values": [0.64,0.66,0.68,0.7,0.72,0.74,0.76], "format": ".2f", "title": "cumulative F1 score", "labelPadding": 7}},
    "strokeDash": {"field": "s", "type": "nominal", "scale": {"domain": ["actual", "estimated"], "range": [[1,0],[4,3]]}, "legend": {"title": null, "labelExpr": "datum.label + ' value'", "labelFontSize": 11, "symbolSize": 196, "padding": 3, "symbolOffset": 14, "rowPadding": 2, "offset": 6, "labelOffset": 4}}
   }},
  {"mark": {"type": "point", "opacity": 0},
   "encoding": {
    "x": {"field": "w", "type": "quantitative", "scale": {"domain": [0, 60], "nice": false, "zero": false}, "axis": {"orient": "top", "values": [0,10,20,30,40,50,60], "labels": false, "title": null}},
    "y": {"field": "v", "type": "quantitative", "scale": {"domain": [0.64, 0.76], "nice": false, "zero": false}, "axis": {"orient": "right", "values": [0.64,0.66,0.68,0.7,0.72,0.74,0.76], "labels": false, "title": null}}
   }}
 ],
 "resolve": {"axis": {"x": "independent", "y": "independent"}}},
{"width": 230, "height": 164, "data": {"name": "a4"},
 "layer": [
  {"mark": {"type": "line", "color": "#444", "strokeWidth": 1},
   "encoding": {
    "x": {"field": "w", "type": "quantitative", "scale": {"domain": [0, 60], "nice": false, "zero": false}, "axis": {"orient": "bottom", "values": [0,10,20,30,40,50,60], "title": "windows", "labelPadding": 7}},
    "y": {"field": "v", "type": "quantitative", "scale": {"domain": [0.67, 0.77], "nice": false, "zero": false}, "axis": {"orient": "left", "values": [0.68,0.7,0.72,0.74,0.76], "format": ".2f", "title": "cumulative F2 score", "labelPadding": 7}},
    "strokeDash": {"field": "s", "type": "nominal", "scale": {"domain": ["actual", "estimated"], "range": [[1,0],[4,3]]}, "legend": {"title": null, "labelExpr": "datum.label + ' value'", "labelFontSize": 11, "symbolSize": 196, "padding": 3, "symbolOffset": 14, "rowPadding": 2, "offset": 6, "labelOffset": 4}}
   }},
  {"mark": {"type": "point", "opacity": 0},
   "encoding": {
    "x": {"field": "w", "type": "quantitative", "scale": {"domain": [0, 60], "nice": false, "zero": false}, "axis": {"orient": "top", "values": [0,10,20,30,40,50,60], "labels": false, "title": null}},
    "y": {"field": "v", "type": "quantitative", "scale": {"domain": [0.67, 0.77], "nice": false, "zero": false}, "axis": {"orient": "right", "values": [0.68,0.7,0.72,0.74,0.76], "labels": false, "title": null}}
   }}
 ],
 "resolve": {"axis": {"x": "independent", "y": "independent"}}}
], "spacing": 45, "bounds": "flush", "resolve": {"scale": {"strokeDash": "independent"}, "legend": {"strokeDash": "independent"}}}
],
"spacing": 3,
"resolve": {"scale": {"strokeDash": "independent"}, "legend": {"strokeDash": "independent"}},
"title": {"text": ["(a) \u2005Population-level \u2005learning \u2005curves: \u2005precision, \u2005re-", "call, and F1 and F2 scores"], "orient": "bottom", "anchor": "start", "font": "Liberation Serif", "fontSize": 22.5, "fontWeight": "normal", "color": "#000", "lineHeight": 22.5, "dx": 26, "offset": 4}
},
{
"vconcat": [
{"hconcat": [
{"width": 117, "height": 166, "data": {"name": "b1"},
 "layer": [
  {"mark": {"type": "line", "color": "#444", "strokeWidth": 1},
   "encoding": {
    "x": {"field": "w", "type": "quantitative", "scale": {"domain": [10, 55], "nice": false, "zero": false}, "axis": {"orient": "bottom", "values": [10,15,20,25,30,35,40,45,50,55], "title": null, "labelPadding": 6}},
    "y": {"field": "v", "type": "quantitative", "scale": {"domain": [0.54, 0.68], "nice": false, "zero": false}, "axis": {"orient": "left", "values": [0.54,0.56,0.58,0.6,0.62,0.64,0.66,0.68], "format": ".2f", "title": null, "labelPadding": 6}},
    "strokeDash": {"field": "s", "type": "nominal", "scale": {"domain": ["actual", "estimated"], "range": [[1,0],[4,3]]}, "legend": {"title": null, "labelExpr": "datum.label + ' F1'", "labelFontSize": 7, "symbolSize": 100, "padding": 1.5, "symbolOffset": 4, "rowPadding": 0, "offset": 3, "labelOffset": 4}}
   }},
  {"mark": {"type": "point", "opacity": 0},
   "encoding": {
    "x": {"field": "w", "type": "quantitative", "scale": {"domain": [10, 55], "nice": false, "zero": false}, "axis": {"orient": "top", "values": [10,15,20,25,30,35,40,45,50,55], "labels": false, "title": null}},
    "y": {"field": "v", "type": "quantitative", "scale": {"domain": [0.54, 0.68], "nice": false, "zero": false}, "axis": {"orient": "right", "values": [0.54,0.56,0.58,0.6,0.62,0.64,0.66,0.68], "labels": false, "title": null}}
   }}
 ],
 "resolve": {"axis": {"x": "independent", "y": "independent"}}},
{"width": 117, "height": 166, "data": {"name": "b2"},
 "layer": [
  {"mark": {"type": "line", "color": "#444", "strokeWidth": 1},
   "encoding": {
    "x": {"field": "w", "type": "quantitative", "scale": {"domain": [10, 55], "nice": false, "zero": false}, "axis": {"orient": "bottom", "values": [10,15,20,25,30,35,40,45,50,55], "title": null, "labelPadding": 6}},
    "y": {"field": "v", "type": "quantitative", "scale": {"domain": [0.5, 0.75], "nice": false, "zero": false}, "axis": {"orient": "left", "values": [0.5,0.55,0.6,0.65,0.7,0.75], "format": ".2f", "title": null, "labelPadding": 6}},
    "strokeDash": {"field": "s", "type": "nominal", "scale": {"domain": ["actual", "estimated"], "range": [[1,0],[4,3]]}, "legend": {"title": null, "labelExpr": "datum.label + ' F1'", "labelFontSize": 7, "symbolSize": 100, "padding": 1.5, "symbolOffset": 4, "rowPadding": 0, "offset": 3, "labelOffset": 4}}
   }},
  {"mark": {"type": "point", "opacity": 0},
   "encoding": {
    "x": {"field": "w", "type": "quantitative", "scale": {"domain": [10, 55], "nice": false, "zero": false}, "axis": {"orient": "top", "values": [10,15,20,25,30,35,40,45,50,55], "labels": false, "title": null}},
    "y": {"field": "v", "type": "quantitative", "scale": {"domain": [0.5, 0.75], "nice": false, "zero": false}, "axis": {"orient": "right", "values": [0.5,0.55,0.6,0.65,0.7,0.75], "labels": false, "title": null}}
   }}
 ],
 "resolve": {"axis": {"x": "independent", "y": "independent"}}},
{"width": 117, "height": 166, "data": {"name": "b3"},
 "layer": [
  {"mark": {"type": "line", "color": "#444", "strokeWidth": 1},
   "encoding": {
    "x": {"field": "w", "type": "quantitative", "scale": {"domain": [10, 55], "nice": false, "zero": false}, "axis": {"orient": "bottom", "values": [10,15,20,25,30,35,40,45,50,55], "title": null, "labelPadding": 6}},
    "y": {"field": "v", "type": "quantitative", "scale": {"domain": [0.62, 0.78], "nice": false, "zero": false}, "axis": {"orient": "left", "values": [0.62,0.64,0.66,0.68,0.7,0.72,0.74,0.76,0.78], "format": ".2f", "title": null, "labelPadding": 6}},
    "strokeDash": {"field": "s", "type": "nominal", "scale": {"domain": ["actual", "estimated"], "range": [[1,0],[4,3]]}, "legend": {"title": null, "labelExpr": "datum.label + ' F1'", "labelFontSize": 7, "symbolSize": 100, "padding": 1.5, "symbolOffset": 4, "rowPadding": 0, "offset": 3, "labelOffset": 4}}
   }},
  {"mark": {"type": "point", "opacity": 0},
   "encoding": {
    "x": {"field": "w", "type": "quantitative", "scale": {"domain": [10, 55], "nice": false, "zero": false}, "axis": {"orient": "top", "values": [10,15,20,25,30,35,40,45,50,55], "labels": false, "title": null}},
    "y": {"field": "v", "type": "quantitative", "scale": {"domain": [0.62, 0.78], "nice": false, "zero": false}, "axis": {"orient": "right", "values": [0.62,0.64,0.66,0.68,0.7,0.72,0.74,0.76,0.78], "labels": false, "title": null}}
   }}
 ],
 "resolve": {"axis": {"x": "independent", "y": "independent"}}},
{"width": 117, "height": 166, "data": {"name": "b4"},
 "layer": [
  {"mark": {"type": "line", "color": "#444", "strokeWidth": 1},
   "encoding": {
    "x": {"field": "w", "type": "quantitative", "scale": {"domain": [10, 55], "nice": false, "zero": false}, "axis": {"orient": "bottom", "values": [10,15,20,25,30,35,40,45,50,55], "title": null, "labelPadding": 6}},
    "y": {"field": "v", "type": "quantitative", "scale": {"domain": [0.72, 0.86], "nice": false, "zero": false}, "axis": {"orient": "left", "values": [0.72,0.74,0.76,0.78,0.8,0.82,0.84,0.86], "format": ".2f", "title": null, "labelPadding": 6}},
    "strokeDash": {"field": "s", "type": "nominal", "scale": {"domain": ["actual", "estimated"], "range": [[1,0],[4,3]]}, "legend": {"title": null, "labelExpr": "datum.label + ' F1'", "labelFontSize": 7, "symbolSize": 100, "padding": 1.5, "symbolOffset": 4, "rowPadding": 0, "offset": 3, "labelOffset": 4}}
   }},
  {"mark": {"type": "point", "opacity": 0},
   "encoding": {
    "x": {"field": "w", "type": "quantitative", "scale": {"domain": [10, 55], "nice": false, "zero": false}, "axis": {"orient": "top", "values": [10,15,20,25,30,35,40,45,50,55], "labels": false, "title": null}},
    "y": {"field": "v", "type": "quantitative", "scale": {"domain": [0.72, 0.86], "nice": false, "zero": false}, "axis": {"orient": "right", "values": [0.72,0.74,0.76,0.78,0.8,0.82,0.84,0.86], "labels": false, "title": null}}
   }}
 ],
 "resolve": {"axis": {"x": "independent", "y": "independent"}}},
{"width": 117, "height": 166, "data": {"name": "b5"},
 "layer": [
  {"mark": {"type": "line", "color": "#444", "strokeWidth": 1},
   "encoding": {
    "x": {"field": "w", "type": "quantitative", "scale": {"domain": [10, 55], "nice": false, "zero": false}, "axis": {"orient": "bottom", "values": [10,15,20,25,30,35,40,45,50,55], "title": null, "labelPadding": 6}},
    "y": {"field": "v", "type": "quantitative", "scale": {"domain": [0.83, 0.91], "nice": false, "zero": false}, "axis": {"orient": "left", "values": [0.83,0.84,0.85,0.86,0.87,0.88,0.89,0.9,0.91], "format": ".2f", "title": null, "labelPadding": 6}},
    "strokeDash": {"field": "s", "type": "nominal", "scale": {"domain": ["actual", "estimated"], "range": [[1,0],[4,3]]}, "legend": {"title": null, "labelExpr": "datum.label + ' F1'", "labelFontSize": 7, "symbolSize": 100, "padding": 1.5, "symbolOffset": 4, "rowPadding": 0, "offset": 3, "labelOffset": 4}}
   }},
  {"mark": {"type": "point", "opacity": 0},
   "encoding": {
    "x": {"field": "w", "type": "quantitative", "scale": {"domain": [10, 55], "nice": false, "zero": false}, "axis": {"orient": "top", "values": [10,15,20,25,30,35,40,45,50,55], "labels": false, "title": null}},
    "y": {"field": "v", "type": "quantitative", "scale": {"domain": [0.83, 0.91], "nice": false, "zero": false}, "axis": {"orient": "right", "values": [0.83,0.84,0.85,0.86,0.87,0.88,0.89,0.9,0.91], "labels": false, "title": null}}
   }}
 ],
 "resolve": {"axis": {"x": "independent", "y": "independent"}}}
], "spacing": 25, "bounds": "flush", "resolve": {"scale": {"strokeDash": "independent"}, "legend": {"strokeDash": "independent"}}},
{"hconcat": [
{"width": 117, "height": 167, "data": {"name": "b6"},
 "layer": [
  {"mark": {"type": "line", "color": "#444", "strokeWidth": 1},
   "encoding": {
    "x": {"field": "w", "type": "quantitative", "scale": {"domain": [10, 55], "nice": false, "zero": false}, "axis": {"orient": "bottom", "values": [10,15,20,25,30,35,40,45,50,55], "title": null, "labelPadding": 6}},
    "y": {"field": "v", "type": "quantitative", "scale": {"domain": [0.74, 0.92], "nice": false, "zero": false}, "axis": {"orient": "left", "values": [0.74,0.76,0.78,0.8,0.82,0.84,0.86,0.88,0.9,0.92], "format": ".2f", "title": null, "labelPadding": 6}},
    "strokeDash": {"field": "s", "type": "nominal", "scale": {"domain": ["actual", "estimated"], "range": [[1,0],[4,3]]}, "legend": {"title": null, "labelExpr": "datum.label + ' F1'", "labelFontSize": 7, "symbolSize": 100, "padding": 1.5, "symbolOffset": 4, "rowPadding": 0, "offset": 3, "labelOffset": 4}}
   }},
  {"mark": {"type": "point", "opacity": 0},
   "encoding": {
    "x": {"field": "w", "type": "quantitative", "scale": {"domain": [10, 55], "nice": false, "zero": false}, "axis": {"orient": "top", "values": [10,15,20,25,30,35,40,45,50,55], "labels": false, "title": null}},
    "y": {"field": "v", "type": "quantitative", "scale": {"domain": [0.74, 0.92], "nice": false, "zero": false}, "axis": {"orient": "right", "values": [0.74,0.76,0.78,0.8,0.82,0.84,0.86,0.88,0.9,0.92], "labels": false, "title": null}}
   }}
 ],
 "resolve": {"axis": {"x": "independent", "y": "independent"}}},
{"width": 117, "height": 167, "data": {"name": "b7"},
 "layer": [
  {"mark": {"type": "line", "color": "#444", "strokeWidth": 1},
   "encoding": {
    "x": {"field": "w", "type": "quantitative", "scale": {"domain": [10, 55], "nice": false, "zero": false}, "axis": {"orient": "bottom", "values": [10,15,20,25,30,35,40,45,50,55], "title": null, "labelPadding": 6}},
    "y": {"field": "v", "type": "quantitative", "scale": {"domain": [0.62, 0.74], "nice": false, "zero": false}, "axis": {"orient": "left", "values": [0.62,0.64,0.66,0.68,0.7,0.72,0.74], "format": ".2f", "title": null, "labelPadding": 6}},
    "strokeDash": {"field": "s", "type": "nominal", "scale": {"domain": ["actual", "estimated"], "range": [[1,0],[4,3]]}, "legend": {"title": null, "labelExpr": "datum.label + ' F1'", "labelFontSize": 7, "symbolSize": 100, "padding": 1.5, "symbolOffset": 4, "rowPadding": 0, "offset": 3, "labelOffset": 4}}
   }},
  {"mark": {"type": "point", "opacity": 0},
   "encoding": {
    "x": {"field": "w", "type": "quantitative", "scale": {"domain": [10, 55], "nice": false, "zero": false}, "axis": {"orient": "top", "values": [10,15,20,25,30,35,40,45,50,55], "labels": false, "title": null}},
    "y": {"field": "v", "type": "quantitative", "scale": {"domain": [0.62, 0.74], "nice": false, "zero": false}, "axis": {"orient": "right", "values": [0.62,0.64,0.66,0.68,0.7,0.72,0.74], "labels": false, "title": null}}
   }}
 ],
 "resolve": {"axis": {"x": "independent", "y": "independent"}}},
{"width": 117, "height": 167, "data": {"name": "b8"},
 "layer": [
  {"mark": {"type": "line", "color": "#444", "strokeWidth": 1},
   "encoding": {
    "x": {"field": "w", "type": "quantitative", "scale": {"domain": [10, 55], "nice": false, "zero": false}, "axis": {"orient": "bottom", "values": [10,15,20,25,30,35,40,45,50,55], "title": null, "labelPadding": 6}},
    "y": {"field": "v", "type": "quantitative", "scale": {"domain": [0.5, 0.75], "nice": false, "zero": false}, "axis": {"orient": "left", "values": [0.5,0.55,0.6,0.65,0.7,0.75], "format": ".2f", "title": null, "labelPadding": 6}},
    "strokeDash": {"field": "s", "type": "nominal", "scale": {"domain": ["actual", "estimated"], "range": [[1,0],[4,3]]}, "legend": {"title": null, "labelExpr": "datum.label + ' F1'", "labelFontSize": 7, "symbolSize": 100, "padding": 1.5, "symbolOffset": 4, "rowPadding": 0, "offset": 3, "labelOffset": 4}}
   }},
  {"mark": {"type": "point", "opacity": 0},
   "encoding": {
    "x": {"field": "w", "type": "quantitative", "scale": {"domain": [10, 55], "nice": false, "zero": false}, "axis": {"orient": "top", "values": [10,15,20,25,30,35,40,45,50,55], "labels": false, "title": null}},
    "y": {"field": "v", "type": "quantitative", "scale": {"domain": [0.5, 0.75], "nice": false, "zero": false}, "axis": {"orient": "right", "values": [0.5,0.55,0.6,0.65,0.7,0.75], "labels": false, "title": null}}
   }}
 ],
 "resolve": {"axis": {"x": "independent", "y": "independent"}}},
{"width": 117, "height": 167, "data": {"name": "b9"},
 "layer": [
  {"mark": {"type": "line", "color": "#444", "strokeWidth": 1},
   "encoding": {
    "x": {"field": "w", "type": "quantitative", "scale": {"domain": [10, 55], "nice": false, "zero": false}, "axis": {"orient": "bottom", "values": [10,15,20,25,30,35,40,45,50,55], "title": null, "labelPadding": 6}},
    "y": {"field": "v", "type": "quantitative", "scale": {"domain": [0.56, 0.7], "nice": false, "zero": false}, "axis": {"orient": "left", "values": [0.56,0.58,0.6,0.62,0.64,0.66,0.68,0.7], "format": ".2f", "title": null, "labelPadding": 6}},
    "strokeDash": {"field": "s", "type": "nominal", "scale": {"domain": ["actual", "estimated"], "range": [[1,0],[4,3]]}, "legend": {"title": null, "labelExpr": "datum.label + ' F1'", "labelFontSize": 7, "symbolSize": 100, "padding": 1.5, "symbolOffset": 4, "rowPadding": 0, "offset": 3, "labelOffset": 4}}
   }},
  {"mark": {"type": "point", "opacity": 0},
   "encoding": {
    "x": {"field": "w", "type": "quantitative", "scale": {"domain": [10, 55], "nice": false, "zero": false}, "axis": {"orient": "top", "values": [10,15,20,25,30,35,40,45,50,55], "labels": false, "title": null}},
    "y": {"field": "v", "type": "quantitative", "scale": {"domain": [0.56, 0.7], "nice": false, "zero": false}, "axis": {"orient": "right", "values": [0.56,0.58,0.6,0.62,0.64,0.66,0.68,0.7], "labels": false, "title": null}}
   }}
 ],
 "resolve": {"axis": {"x": "independent", "y": "independent"}}},
{"width": 117, "height": 167, "data": {"name": "b10"},
 "layer": [
  {"mark": {"type": "line", "color": "#444", "strokeWidth": 1},
   "encoding": {
    "x": {"field": "w", "type": "quantitative", "scale": {"domain": [10, 55], "nice": false, "zero": false}, "axis": {"orient": "bottom", "values": [10,15,20,25,30,35,40,45,50,55], "title": null, "labelPadding": 6}},
    "y": {"field": "v", "type": "quantitative", "scale": {"domain": [0.5, 0.8], "nice": false, "zero": false}, "axis": {"orient": "left", "values": [0.5,0.55,0.6,0.65,0.7,0.75,0.8], "format": ".2f", "title": null, "labelPadding": 6}},
    "strokeDash": {"field": "s", "type": "nominal", "scale": {"domain": ["actual", "estimated"], "range": [[1,0],[4,3]]}, "legend": {"title": null, "labelExpr": "datum.label + ' F1'", "labelFontSize": 7, "symbolSize": 100, "padding": 1.5, "symbolOffset": 4, "rowPadding": 0, "offset": 3, "labelOffset": 4}}
   }},
  {"mark": {"type": "point", "opacity": 0},
   "encoding": {
    "x": {"field": "w", "type": "quantitative", "scale": {"domain": [10, 55], "nice": false, "zero": false}, "axis": {"orient": "top", "values": [10,15,20,25,30,35,40,45,50,55], "labels": false, "title": null}},
    "y": {"field": "v", "type": "quantitative", "scale": {"domain": [0.5, 0.8], "nice": false, "zero": false}, "axis": {"orient": "right", "values": [0.5,0.55,0.6,0.65,0.7,0.75,0.8], "labels": false, "title": null}}
   }}
 ],
 "resolve": {"axis": {"x": "independent", "y": "independent"}}}
], "spacing": 25, "bounds": "flush", "resolve": {"scale": {"strokeDash": "independent"}, "legend": {"strokeDash": "independent"}}}
],
"spacing": 17,
"resolve": {"scale": {"strokeDash": "independent"}, "legend": {"strokeDash": "independent"}},
"title": {"text": ["(b) \u2006Worker-level \u2006learning \u2006curves \u2006(cumulative \u2006F₁ \u2006Scores) \u2006projected", "from 30 windows"], "orient": "bottom", "anchor": "start", "font": "Liberation Serif", "fontSize": 22.5, "fontWeight": "normal", "color": "#000", "lineHeight": 22.5, "dx": 74, "offset": 7}
}
],
"spacing": 23,
"resolve": {"scale": {"strokeDash": "independent"}, "legend": {"strokeDash": "independent"}},
"config": {
 "font": "DejaVu Sans",
 "view": {"stroke": "#555", "strokeWidth": 1},
 "axis": {"domain": false, "grid": false, "ticks": true, "tickSize": -4, "tickColor": "#555", "labelFont": "DejaVu Sans", "labelFontSize": 9, "labelColor": "#111", "labelFlush": false, "labelOverlap": false, "titleFont": "DejaVu Sans", "titleFontSize": 9, "titleFontWeight": "normal", "titleColor": "#111", "titlePadding": 3, "minExtent": 0},
 "axisX": {"minExtent": 0},
 "axisY": {"minExtent": 0},
 "legend": {"orient": "bottom-right", "fillColor": "white", "strokeColor": "#555", "symbolType": "stroke", "symbolStrokeColor": "#444", "symbolStrokeWidth": 1, "labelFont": "DejaVu Sans", "labelColor": "#111", "cornerRadius": 0}
}
}
